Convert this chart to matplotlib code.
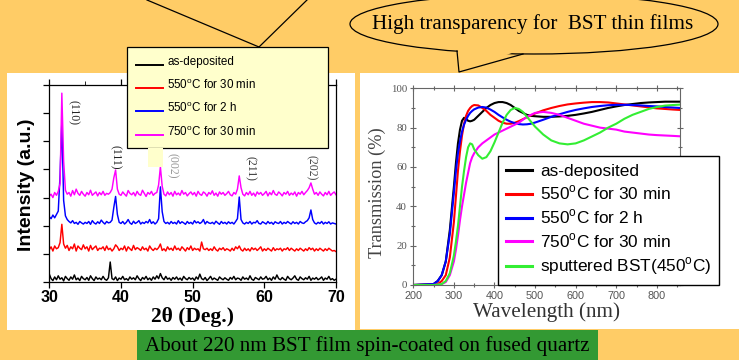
import numpy as np
import matplotlib
matplotlib.use('Agg')
import matplotlib.pyplot as plt
from matplotlib.patches import Rectangle, Ellipse, Polygon
from matplotlib.lines import Line2D

plt.rcParams['mathtext.fontset'] = 'custom'
plt.rcParams['mathtext.rm'] = 'Liberation Sans'
SANS = 'Liberation Sans'
SERIF = 'Liberation Serif'

# ---------------- data ----------------
two_theta = np.linspace(30, 70, 161)   # sampling grid, 0.25 deg

# intensities in hundredths of a tick unit (offset traces)
xrd_750_30min = [
    305, 312, 300, 318, 308, 322, 350, 671, 430, 326,
    312, 318, 305, 325, 310, 330, 315, 308, 322, 312,
    305, 318, 310, 326, 308, 314, 320, 306, 318, 310,
    322, 308, 315, 312, 318, 330, 370, 398, 330, 312,
    308, 320, 312, 305, 325, 315, 310, 318, 306, 322,
    312, 308, 326, 315, 304, 318, 312, 322, 308, 315,
    318, 345, 409, 340, 312, 306, 320, 310, 318, 305,
    322, 310, 316, 308, 325, 312, 318, 306, 314, 320,
    310, 318, 305, 322, 312, 308, 320, 315, 305, 318,
    312, 324, 308, 316, 305, 320, 312, 318, 308, 314,
    322, 310, 306, 318, 312, 330, 377, 335, 312, 306,
    318, 310, 322, 308, 316, 305, 320, 312, 318, 308,
    314, 322, 306, 318, 310, 325, 312, 308, 320, 314,
    306, 318, 312, 322, 308, 316, 310, 320, 305, 318,
    312, 322, 310, 318, 325, 335, 352, 330, 312, 318,
    308, 320, 312, 306, 318, 310, 322, 308, 315, 320, 310]
xrd_550_2h = [
    232, 225, 238, 228, 240, 252, 380, 570, 290, 235,
    222, 215, 210, 218, 208, 212, 205, 215, 210, 206,
    212, 208, 215, 205, 218, 210, 206, 214, 208, 220,
    212, 206, 215, 210, 212, 220, 265, 304, 240, 212,
    208, 215, 206, 212, 222, 210, 205, 216, 208, 212,
    218, 206, 212, 208, 215, 210, 222, 208, 214, 206,
    212, 225, 338, 250, 215, 208, 212, 206, 215, 208,
    212, 206, 218, 208, 214, 210, 205, 215, 208, 212,
    206, 218, 210, 214, 208, 212, 222, 206, 215, 210,
    208, 212, 206, 216, 210, 205, 215, 208, 212, 206,
    214, 208, 212, 206, 215, 225, 302, 222, 210, 206,
    212, 208, 215, 206, 212, 210, 218, 208, 206, 214,
    210, 206, 215, 208, 212, 205, 214, 210, 208, 215,
    206, 212, 208, 215, 210, 206, 214, 208, 212, 206,
    215, 210, 208, 214, 218, 228, 256, 222, 210, 206,
    212, 208, 215, 206, 212, 208, 214, 206, 210, 208, 206]
xrd_550_30min = [
    115, 125, 110, 128, 118, 122, 140, 205, 135, 120,
    130, 112, 125, 118, 135, 110, 128, 120, 115, 132,
    118, 125, 110, 130, 115, 122, 128, 112, 120, 118,
    125, 112, 128, 115, 120, 110, 118, 132, 125, 112,
    120, 115, 128, 110, 125, 118, 112, 130, 115, 122,
    118, 112, 125, 115, 120, 110, 128, 118, 112, 120,
    115, 122, 135, 112, 118, 110, 125, 115, 120, 112,
    128, 115, 120, 112, 125, 118, 110, 122, 115, 128,
    112, 120, 115, 118, 110, 142, 118, 115, 120, 112,
    118, 112, 125, 115, 110, 120, 115, 122, 112, 118,
    115, 110, 120, 112, 125, 118, 128, 115, 110, 120,
    112, 118, 110, 122, 115, 120, 112, 118, 125, 110,
    118, 112, 120, 115, 110, 122, 112, 118, 115, 120,
    110, 118, 115, 122, 112, 120, 115, 110, 118, 112,
    120, 115, 110, 118, 112, 122, 115, 120, 110, 118,
    112, 120, 115, 110, 118, 112, 120, 115, 110, 112, 108]
xrd_as_dep = [
    28, 12, 5, 18, 8, 22, 10, 15, 4, 20,
    12, 6, 18, 10, 25, 8, 14, 5, 20, 12,
    8, 16, 6, 22, 12, 5, 18, 10, 14, 8,
    20, 10, 6, 15, 71, 12, 8, 18, 5, 14,
    10, 20, 8, 12, 6, 18, 10, 15, 8, 22,
    12, 5, 16, 10, 20, 8, 14, 6, 18, 10,
    22, 12, 30, 15, 8, 20, 10, 14, 6, 16,
    10, 18, 8, 14, 6, 20, 12, 8, 16, 10,
    14, 6, 18, 10, 28, 12, 8, 16, 5, 12,
    20, 8, 14, 10, 6, 18, 12, 8, 15, 10,
    6, 16, 10, 20, 8, 14, 12, 6, 18, 10,
    14, 8, 22, 10, 6, 16, 12, 8, 18, 10,
    12, 20, 8, 14, 6, 18, 10, 25, 12, 8,
    16, 10, 6, 20, 12, 8, 14, 22, 10, 6,
    18, 12, 8, 15, 10, 20, 6, 14, 10, 16,
    8, 12, 18, 6, 14, 10, 20, 8, 12, 6, 10]

peak_labels = ['(110)', '(111)', '(002)', '(211)', '(202)']
peak_label_x = [33.35, 39.16, 47.15, 58.0, 66.6]
peak_label_y = [6.02, 4.45, 4.13, 4.04, 4.07]
peak_label_colors = ['#222222', '#222222', '#999999', '#333333', '#444444']

wavelength = [200, 250, 260, 270, 280, 290, 300, 305, 310, 315, 320, 325, 330,
              335, 340, 345, 350, 360, 370, 380, 390, 400, 410, 420, 430, 440,
              450, 460, 470, 480, 490, 500, 520, 540, 560, 580, 600, 620, 640,
              660, 680, 700, 720, 740, 760, 780, 800, 820, 840, 857]
T_as_dep = [0, 0.5, 2, 5, 12, 28, 50, 62, 72, 79, 83.5, 85, 84.5,
            83.5, 83.2, 83.5, 84, 86, 88, 90, 91.5, 92.5, 93, 93, 92.5, 91.5,
            90, 88.5, 87.5, 86.5, 86, 85.8, 85.5, 85.5, 85.7, 86, 86.5, 87.2, 88,
            89, 90, 90.8, 91.5, 92, 92.5, 92.8, 93, 93.2, 93.2, 93.2]
T_550_30 = [0, 0.2, 0.5, 2, 5, 14, 32, 45, 58, 68, 76, 82, 86,
            88.5, 90, 91, 91.5, 91.3, 90, 88.5, 86.5, 85, 83.5, 82.5, 82, 82,
            82.5, 83.3, 84.3, 85.3, 86.3, 87.2, 88.8, 90, 91, 91.8, 92.3, 92.7, 93,
            93, 92.8, 92.3, 91.8, 91.3, 90.8, 90.3, 89.8, 89.5, 89.2, 89]
T_550_2h = [0, 0.5, 2, 5, 12, 26, 47, 58, 67, 73, 78, 81.5, 84,
            86, 87.5, 88.5, 89.3, 90.2, 90.5, 90.2, 89.2, 88, 86.5, 85.2, 84, 83,
            82.3, 81.8, 81.6, 81.7, 82, 82.6, 84, 85.5, 86.8, 88, 89, 89.8, 90.5,
            91, 91.4, 91.6, 91.6, 91.5, 91.3, 91, 90.8, 90.5, 90.2, 90]
T_750_30 = [0, 0, 0.2, 0.5, 1.5, 5, 12, 18, 25, 33, 40, 46, 52,
            57, 62, 65, 67, 70, 72, 73.5, 75, 76.5, 77.5, 78.5, 79.5, 80.5,
            81.5, 82.5, 84, 85.5, 86.5, 87.5, 88, 87.5, 86.5, 85, 83.5, 82, 81,
            80, 79.5, 79, 78, 77.5, 77, 76.5, 76.2, 76, 75.8, 75.6]
T_sputtered = [0, 0, 0.2, 0.5, 2, 6, 15, 22, 30, 40, 50, 58, 65,
               70, 72, 71.5, 69, 66, 64.2, 65, 68, 72.5, 77.5, 82.5, 86.5, 89,
               90, 89.5, 88, 85.5, 83, 80.5, 76.5, 73.5, 72, 71.5, 72, 73.5, 75.5,
               77.5, 80, 82, 84.5, 86.5, 88, 89.5, 90.5, 91.2, 91.5, 91.7]

xrd_series = [xrd_as_dep, xrd_550_30min, xrd_550_2h, xrd_750_30min]
trans_series = [T_as_dep, T_550_30, T_550_2h, T_750_30, T_sputtered]
series_labels = ['as-deposited', r'550$^{\rm o}$C for 30 min', r'550$^{\rm o}$C for 2 h',
                 r'750$^{\rm o}$C for 30 min', r'sputtered BST(450$^{\rm o}$C)']
colors = ['#000000', '#FF0000', '#0000FF', '#FF00FF', '#33EE33']

# ---------------- figure ----------------
W, H = 739, 360
BG = '#FFCC66'
fig = plt.figure(figsize=(W / 100, H / 100), dpi=100)
fig.patch.set_facecolor(BG)


def fx(px):
    return px / W


def fy(py):
    return 1 - py / H


def box(x0, y0, x1, y1):
    return [x0 / W, 1 - y1 / H, (x1 - x0) / W, (y1 - y0) / H]


def frect(x0, y0, x1, y1, **kw):
    r = Rectangle((x0 / W, 1 - y1 / H), (x1 - x0) / W, (y1 - y0) / H,
                  transform=fig.transFigure, **kw)
    fig.add_artist(r)
    return r


def fline(xs, ys, **kw):
    ln = Line2D([fx(v) for v in xs], [fy(v) for v in ys], transform=fig.transFigure, **kw)
    fig.add_artist(ln)
    return ln


# white panels
frect(7, 73, 355, 330, facecolor='white', edgecolor='none', zorder=-2)
frect(360, 73, 739, 329, facecolor='white', edgecolor='none', zorder=-2)

# ---------- XRD axes ----------
ax1 = fig.add_axes(box(49.3, 85, 336, 282))
for s, c in zip(xrd_series, colors[:4]):
    ax1.plot(two_theta, np.array(s) / 100.0, color=c, lw=1.05)
ax1.set_xlim(30, 70)
ax1.set_ylim(0, 7)
ax1.set_xticks([30, 40, 50, 60, 70])
ax1.set_xticks([35, 45, 55, 65], minor=True)
ax1.set_yticks(range(8))
ax1.set_yticklabels([])
ax1.tick_params(direction='out', length=4, width=0.9, top=True, right=False,
                labelsize=11.5, pad=2)
ax1.tick_params(which='minor', direction='out', length=3, bottom=False, top=True)
for lab in ax1.get_xticklabels():
    lab.set_fontfamily(SANS)
    lab.set_fontweight('bold')
for sp in ax1.spines.values():
    sp.set_linewidth(0.9)
ax1.set_ylabel('Intensity (a.u.)', fontfamily=SANS, fontweight='bold', fontsize=14,
               ha='center', va='center')
ax1.yaxis.set_label_coords(-0.081, 0.495)
ax1.set_xlabel('2θ (Deg.)', fontfamily=SERIF, fontweight='bold', fontsize=15.5,
               ha='center', va='center')
ax1.xaxis.set_label_coords(0.5, -0.178)
for t, x, y, c in zip(peak_labels, peak_label_x, peak_label_y, peak_label_colors):
    ax1.text(x, y, t, rotation=-90, ha='center', va='center', fontsize=8.5,
             fontfamily=SERIF, color=c)

# ---------- Transmission axes ----------
GRAY = '#555555'
ax2 = fig.add_axes(box(413.3, 88.3, 680, 285))
for s, c in zip(trans_series, colors):
    ax2.plot(wavelength, s, color=c, lw=1.5)
ax2.set_xlim(200, 857)
ax2.set_ylim(0, 100)
ax2.set_xticks(range(200, 900, 100))
ax2.set_xticks(range(250, 900, 100), minor=True)
ax2.set_yticks(range(0, 101, 20))
ax2.set_yticks(range(10, 100, 20), minor=True)
ax2.tick_params(direction='inout', length=5, width=0.8, color='#666666',
                top=True, right=True, labelcolor=GRAY, pad=2)
ax2.tick_params(which='minor', direction='inout', length=3, width=0.8,
                color='#666666', top=True, right=True)
for lab in ax2.get_xticklabels():
    lab.set_fontfamily(SANS)
    lab.set_fontsize(7.8)
for lab in ax2.get_yticklabels():
    lab.set_fontfamily(SERIF)
    lab.set_fontsize(7.8)
for sp in ax2.spines.values():
    sp.set_color('#666666')
    sp.set_linewidth(0.8)
ax2.set_ylabel('Transmission (%)', fontfamily=SERIF, fontsize=13.2, color='#444444',
               ha='center', va='center')
ax2.yaxis.set_label_coords(-0.136, 0.468)
ax2.set_xlabel('Wavelength (nm)', fontfamily=SERIF, fontsize=15.2, color='#333333',
               ha='center', va='center')
ax2.xaxis.set_label_coords(0.5, -0.137)
handles = [Line2D([], [], color=c, lw=2.2) for c in colors]
leg = ax2.legend(handles, series_labels, loc='upper left',
                 bbox_to_anchor=(fx(498), fy(156)), bbox_transform=fig.transFigure,
                 borderaxespad=0, frameon=True, fancybox=False, framealpha=1,
                 edgecolor='black', prop={'family': SANS, 'size': 12.4},
                 handlelength=1.5, handletextpad=0.5, labelspacing=0.3,
                 borderpad=0.45)
leg.get_frame().set_linewidth(1.0)

# ---------- left callout (legend of XRD) ----------
fline([147, 259], [0, 47], color='black', lw=0.9, zorder=9)
fline([259, 307], [47, 0], color='black', lw=0.9, zorder=9)
frect(127, 47, 328, 148, facecolor='#FFFFCC', edgecolor='black', lw=0.9, zorder=10)
frect(148, 148, 163, 167, facecolor='#FFFFCC', edgecolor='none', zorder=10)
row_y = [62, 85, 108, 132]
for yy, lab, c in zip(row_y, series_labels[:4], colors[:4]):
    fline([136, 163], [yy + 3, yy + 3], color=c, lw=1.4, zorder=11)
    fig.text(fx(167), fy(yy), lab, ha='left', va='center', fontsize=8.4,
             fontfamily=SANS, zorder=11)

# ---------- right callout ----------
fig.add_artist(Ellipse((fx(534), fy(24)), 368 / W, 60 / H, transform=fig.transFigure,
                       facecolor=BG, edgecolor='black', lw=0.9, zorder=10))
fig.add_artist(Polygon([(fx(457.5), fy(46)), (fx(459), fy(72)), (fx(523), fy(49))],
                       closed=True, transform=fig.transFigure, facecolor=BG,
                       edgecolor='none', zorder=11))
fline([457, 459, 523], [51, 72, 54], color='black', lw=0.9, zorder=12)
fig.text(fx(533), fy(24), 'High transparency for  BST thin films', ha='center',
         va='center', fontsize=15.2, fontfamily=SERIF, zorder=13)

# ---------- bottom green caption ----------
frect(137, 330, 598, 360, facecolor='#339933', edgecolor='none', zorder=1)
fig.text(fx(367.5), fy(346), 'About 220 nm BST film spin-coated on fused quartz',
         ha='center', va='center', fontsize=15.2, fontfamily=SERIF, zorder=2)

fig.savefig('out.png', dpi=100, facecolor=BG)
